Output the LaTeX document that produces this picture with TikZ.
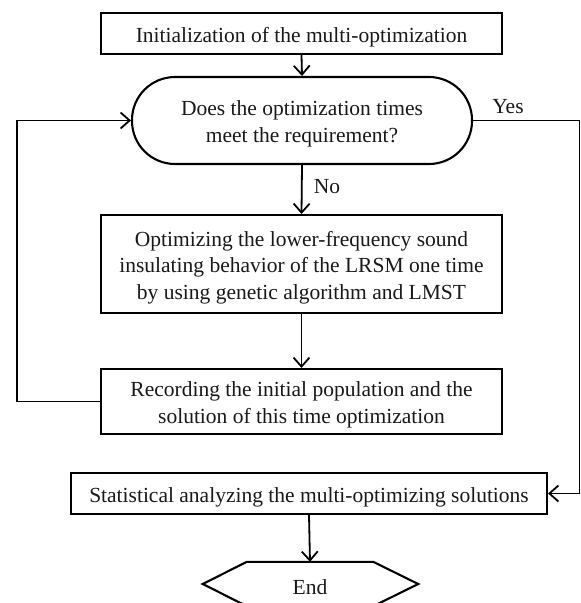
\documentclass[tikz,border=0pt]{standalone}
\usepackage{fontspec}
\setmainfont{Liberation Serif}
\usetikzlibrary{arrows.meta,calc}
\begin{document}
\begin{tikzpicture}[x=1pt,y=-1pt,
  every node/.style={font=\fontsize{21.5}{26.5}\selectfont, text=black!90, inner sep=0pt},
  boxtext/.style={align=center, yshift=-3.5pt},
  procbox/.style={draw, line width=2.1pt},
  termbox/.style={draw, line width=2.1pt, rounded corners=43pt},
  arr/.style={line width=1.8pt, -{Straight Barb[length=9pt,width=16pt,line width=1.8pt]}}]
\useasboundingbox (0,0) rectangle (581,603);
\node[procbox, minimum width=401pt, minimum height=41pt,
  label={[boxtext]center:Initialization of the multi-optimization}] (init) at (301.5,33.5) {};
\node[termbox, minimum width=340pt, minimum height=87pt,
  label={[boxtext]center:Does the optimization times\\meet the requirement?}] (dec) at (302,120.5) {};
\node[procbox, minimum width=401pt, minimum height=98pt,
  label={[boxtext]center:Optimizing the lower-frequency sound\\insulating behavior of the LRSM one time\\by using genetic algorithm and LMST}] (opt) at (301.5,264) {};
\node[procbox, minimum width=401pt, minimum height=65pt,
  label={[boxtext]center:Recording the initial population and the\\solution of this time optimization}] (rec) at (301.5,401.5) {};
\node[procbox, minimum width=476pt, minimum height=41pt,
  label={[boxtext]center:Statistical analyzing the multi-optimizing solutions}] (stat) at (309,493.5) {};
\node[minimum width=126pt, minimum height=44pt,
  label={[boxtext]center:End}] (end) at (310,584) {};
\draw[line width=2.1pt, line join=miter] (end.north west) -- (end.north east) -- ([xshift=45pt]end.east) -- (end.south east) -- (end.south west) -- ([xshift=-44pt]end.west) -- cycle;
\coordinate (L) at (17,120.5);
\coordinate (R) at (579.5,120.5);
\draw[arr] (init.south) -- (dec.north);
\draw[arr] (dec.south) -- (opt.north);
\node (no) at (327,187) {No};
\draw[arr] (opt.south) -- (rec.north);
\draw[arr] (rec.west) -| (L) -- (dec.west);
\draw[arr] (dec.east) -- (R) |- (stat.east);
\node (yes) at (508,107) {Yes};
\draw[arr] (stat.south) -- (end.north);
\end{tikzpicture}
\end{document}
